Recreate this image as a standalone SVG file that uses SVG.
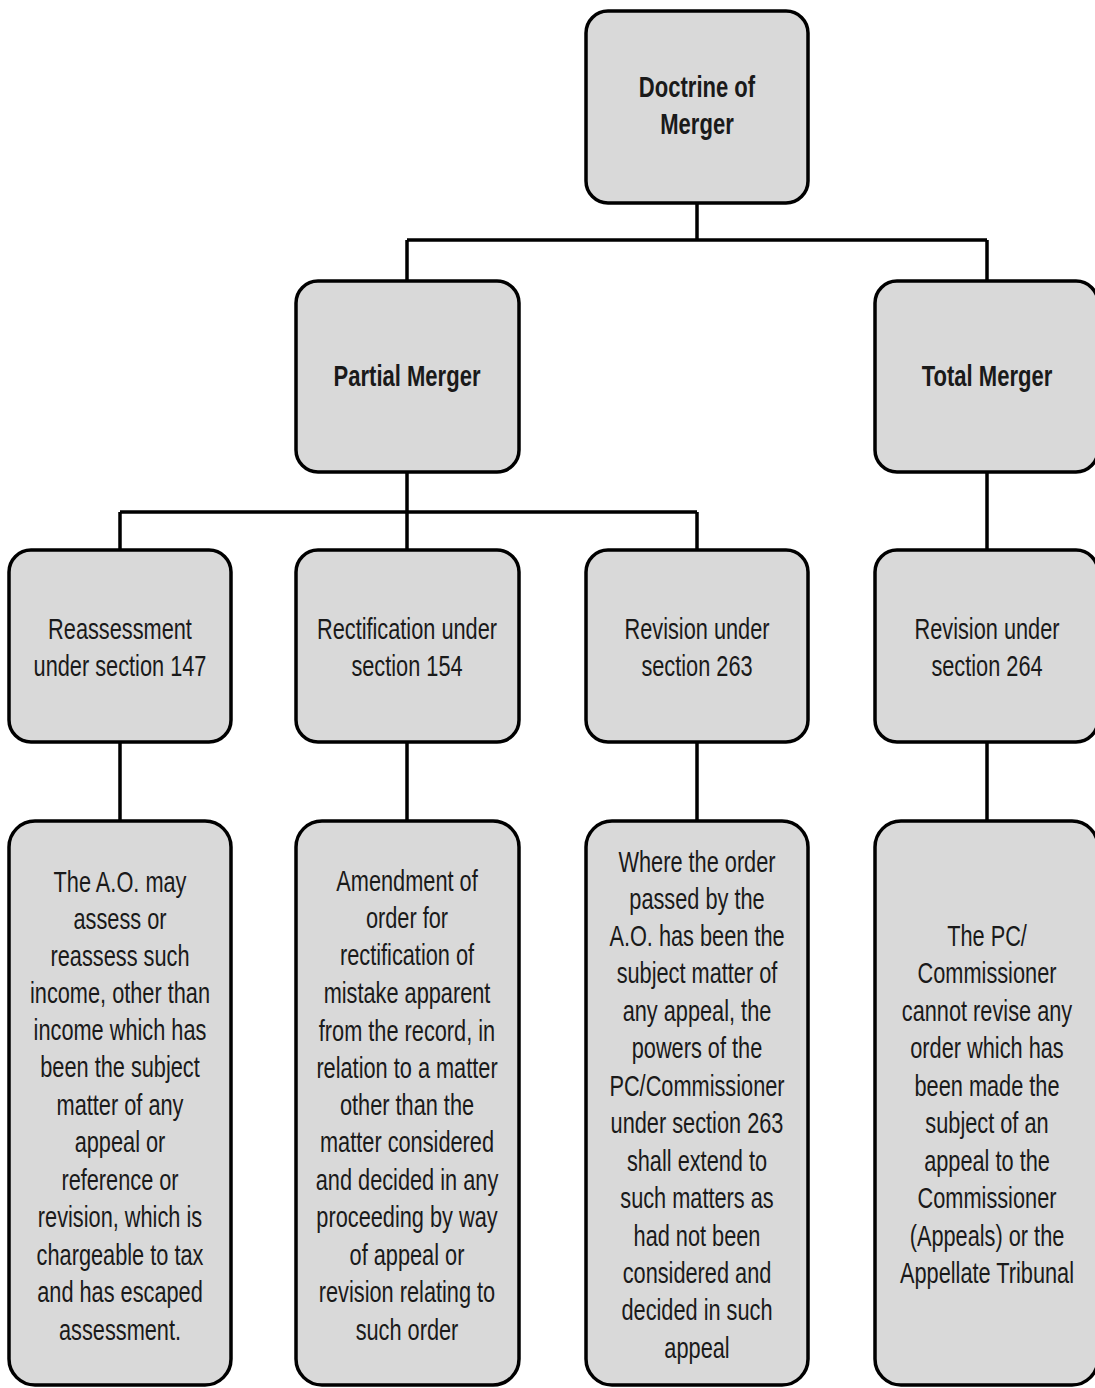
<svg xmlns="http://www.w3.org/2000/svg" width="1095" height="1388" viewBox="0 0 1095 1388">
<style>
.box{fill:#d9d9d9;stroke:#000;stroke-width:3.5}
.con{fill:none;stroke:#000;stroke-width:3.5}
text{font-family:"Liberation Sans",Arial,sans-serif;font-size:30px;fill:#1a1a1a;text-anchor:middle}
.b{font-weight:bold;font-size:29px}
</style>
<rect width="1095" height="1388" fill="#fff"/>
<g id="connectors">
<path class="con" d="M697 203V240M407 240H987M407 240V280M987 240V280"/>
<path class="con" d="M407 472V512M120 512H697M120 512V549M407 512V549M697 512V549M987 472V549"/>
<path class="con" d="M120 742V820M407 742V820M697 742V820M987 742V820"/>
</g>
<g id="doctrine">
<rect class="box" x="586" y="11" width="222" height="192" rx="22"/>
<g transform="translate(697,0) scale(0.76,1)"><text class="b" x="0" y="97">Doctrine of</text><text class="b" x="0" y="134">Merger</text></g>
</g>
<g id="partial">
<rect class="box" x="296" y="281" width="223" height="191" rx="22"/>
<g transform="translate(407,0) scale(0.76,1)"><text class="b" x="0" y="386">Partial Merger</text></g>
</g>
<g id="total">
<rect class="box" x="875" y="281" width="223" height="191" rx="22"/>
<g transform="translate(987,0) scale(0.76,1)"><text class="b" x="0" y="386">Total Merger</text></g>
</g>
<g id="s147">
<rect class="box" x="9" y="550" width="222" height="192" rx="22"/>
<g transform="translate(120,0) scale(0.725,1)"><text x="0" y="639">Reassessment</text><text x="0" y="676">under section 147</text></g>
</g>
<g id="s154">
<rect class="box" x="296" y="550" width="223" height="192" rx="22"/>
<g transform="translate(407,0) scale(0.725,1)"><text x="0" y="639">Rectification under</text><text x="0" y="676">section 154</text></g>
</g>
<g id="s263">
<rect class="box" x="586" y="550" width="222" height="192" rx="22"/>
<g transform="translate(697,0) scale(0.725,1)"><text x="0" y="639">Revision under</text><text x="0" y="676">section 263</text></g>
</g>
<g id="s264">
<rect class="box" x="875" y="550" width="223" height="192" rx="22"/>
<g transform="translate(987,0) scale(0.725,1)"><text x="0" y="639">Revision under</text><text x="0" y="676">section 264</text></g>
</g>
<g id="d147">
<rect class="box" x="9" y="821" width="222" height="564" rx="26"/>
<g transform="translate(120,0) scale(0.725,1)">
<text x="0" y="892">The A.O. may</text>
<text x="0" y="929">assess or</text>
<text x="0" y="966">reassess such</text>
<text x="0" y="1003">income, other than</text>
<text x="0" y="1040">income which has</text>
<text x="0" y="1077">been the subject</text>
<text x="0" y="1115">matter of any</text>
<text x="0" y="1152">appeal or</text>
<text x="0" y="1190">reference or</text>
<text x="0" y="1227">revision, which is</text>
<text x="0" y="1265">chargeable to tax</text>
<text x="0" y="1302">and has escaped</text>
<text x="0" y="1340">assessment.</text>
</g>
</g>
<g id="d154">
<rect class="box" x="296" y="821" width="223" height="564" rx="26"/>
<g transform="translate(407,0) scale(0.725,1)">
<text x="0" y="891">Amendment of</text>
<text x="0" y="928">order for</text>
<text x="0" y="965">rectification of</text>
<text x="0" y="1003">mistake apparent</text>
<text x="0" y="1041">from the record, in</text>
<text x="0" y="1078">relation to a matter</text>
<text x="0" y="1115">other than the</text>
<text x="0" y="1152">matter considered</text>
<text x="0" y="1190">and decided in any</text>
<text x="0" y="1227">proceeding by way</text>
<text x="0" y="1265">of appeal or</text>
<text x="0" y="1302">revision relating to</text>
<text x="0" y="1340">such order</text>
</g>
</g>
<g id="d263">
<rect class="box" x="586" y="821" width="222" height="564" rx="26"/>
<g transform="translate(697,0) scale(0.725,1)">
<text x="0" y="872">Where the order</text>
<text x="0" y="909">passed by the</text>
<text x="0" y="946">A.O. has been the</text>
<text x="0" y="983">subject matter of</text>
<text x="0" y="1021">any appeal, the</text>
<text x="0" y="1058">powers of the</text>
<text x="0" y="1096">PC/Commissioner</text>
<text x="0" y="1133">under section 263</text>
<text x="0" y="1171">shall extend to</text>
<text x="0" y="1208">such matters as</text>
<text x="0" y="1246">had not been</text>
<text x="0" y="1283">considered and</text>
<text x="0" y="1320">decided in such</text>
<text x="0" y="1358">appeal</text>
</g>
</g>
<g id="d264">
<rect class="box" x="875" y="821" width="223" height="564" rx="26"/>
<g transform="translate(987,0) scale(0.725,1)">
<text x="0" y="946">The PC/</text>
<text x="0" y="983">Commissioner</text>
<text x="0" y="1021">cannot revise any</text>
<text x="0" y="1058">order which has</text>
<text x="0" y="1096">been made the</text>
<text x="0" y="1133">subject of an</text>
<text x="0" y="1171">appeal to the</text>
<text x="0" y="1208">Commissioner</text>
<text x="0" y="1246">(Appeals) or the</text>
<text x="0" y="1283">Appellate Tribunal</text>
</g>
</g>
</svg>
